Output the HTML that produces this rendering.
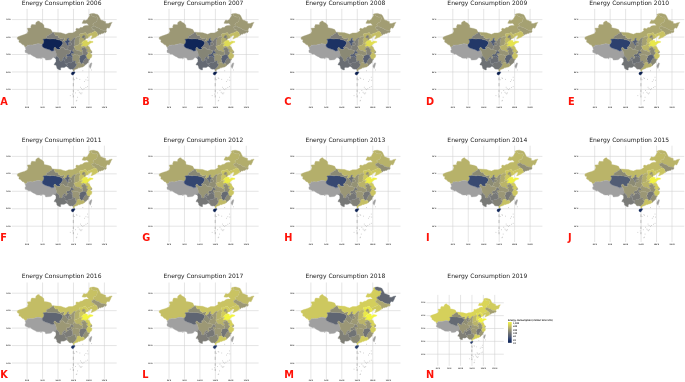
<!DOCTYPE html><html><head><meta charset="utf-8"><title>Energy Consumption</title><style>
html,body{margin:0;padding:0;background:#fff}svg{display:block}.t{font-family:"DejaVu Sans","Liberation Sans",sans-serif;font-size:6.0px;fill:#1a1a1a;text-anchor:middle}.a{font-family:"DejaVu Sans","Liberation Sans",sans-serif;font-size:2.6px;fill:#333;stroke:#333;stroke-width:.05px}.l{font-family:"DejaVu Sans","Liberation Sans",sans-serif;font-weight:bold;font-size:9.75px;fill:#ff1208}.m use{stroke-width:.35;stroke-linejoin:round}
</style></head><body>
<svg width="685" height="382" viewBox="0 0 685 382">
<defs><path id="pXJ" d="M25.6 47.0L24.6 46.5L24.0 45.1L22.2 44.6L20.8 43.0L19.2 42.3L18.9 41.8L19.2 39.8L17.8 39.5L17.5 38.8L17.1 38.1L17.8 36.9L20.1 36.0L22.2 35.3L24.3 34.6L27.4 33.2L27.6 31.8L28.3 31.5L27.7 29.4L27.3 28.3L31.0 28.0L30.8 26.6L31.7 24.5L35.6 24.7L35.9 22.6L37.6 21.2L39.2 21.0L39.5 22.0L41.8 23.1L43.8 25.0L44.1 27.8L48.0 28.5L50.9 29.5L51.7 31.1L52.5 32.3L52.0 33.2L50.6 33.9L49.5 34.8L48.4 35.5L46.9 36.0L46.3 37.4L47.0 38.6L45.3 39.0L43.3 39.2L43.3 39.8L44.0 40.9L43.8 42.3L43.3 43.5L42.3 44.6L40.2 43.9L37.9 43.7L35.6 44.2L32.5 45.1L30.2 44.9L28.6 45.3L27.7 44.9L26.9 46.5Z"/><path id="pXZ" d="M25.6 47.0L26.9 46.5L27.7 44.9L28.6 45.3L30.2 44.9L32.5 45.1L35.6 44.2L37.9 43.7L40.2 43.9L42.3 44.6L42.3 45.8L42.6 46.8L43.8 47.7L45.7 48.6L47.4 49.1L49.1 49.6L50.6 50.3L51.8 51.0L53.1 50.8L54.5 50.1L55.5 51.0L55.9 52.4L56.5 54.5L56.5 55.9L56.0 57.1L55.2 57.8L54.0 57.6L52.1 58.0L51.8 59.0L50.3 59.7L48.0 59.9L45.7 60.1L45.0 58.3L43.3 57.8L41.9 57.6L40.9 59.2L40.7 58.0L39.6 58.2L37.9 58.2L36.4 58.0L35.0 56.9L33.3 56.2L31.7 55.2L30.2 54.0L28.8 54.2L27.4 53.3L26.3 52.8L25.2 52.4L25.1 50.1L26.0 50.0L25.6 48.7L25.2 47.5Z"/><path id="pQH" d="M42.3 44.6L43.3 43.5L43.8 42.3L44.0 40.9L43.3 39.8L43.3 39.2L45.3 39.0L47.0 38.6L48.7 38.8L50.3 39.0L51.8 38.8L53.4 38.8L54.9 39.1L55.9 39.1L57.2 39.5L58.0 39.7L59.6 40.0L61.1 40.7L62.3 41.6L62.8 42.6L62.8 43.7L62.3 44.3L61.9 44.9L61.4 45.9L60.5 46.8L59.6 47.3L59.7 48.0L60.3 48.4L59.9 49.1L59.3 49.6L58.0 49.4L56.8 49.1L55.9 48.2L55.2 47.3L54.2 47.7L53.8 49.3L54.5 50.1L53.1 50.8L51.8 51.0L50.6 50.3L49.1 49.6L47.4 49.1L45.7 48.6L43.8 47.7L42.6 46.8L42.3 45.8Z"/><path id="pGS" d="M47.0 38.6L46.3 37.4L46.9 36.0L48.4 35.5L49.5 34.8L50.6 33.9L52.0 33.2L52.5 32.3L53.7 32.2L54.6 34.1L55.4 35.5L57.4 35.5L58.3 36.0L58.0 37.2L59.3 37.9L60.8 39.1L61.1 38.6L62.5 38.6L63.3 38.1L64.5 38.6L64.2 39.7L63.4 40.4L64.0 41.2L64.7 41.6L65.4 42.3L66.1 42.8L66.5 43.5L66.7 44.4L67.3 44.9L67.8 45.3L68.4 44.9L68.5 44.2L68.1 43.5L68.2 42.6L69.3 42.1L69.8 42.5L70.5 42.6L71.2 43.2L71.5 43.5L71.3 44.9L70.7 45.3L69.9 45.3L69.6 45.8L69.2 45.9L68.2 45.8L68.1 46.3L67.8 46.8L68.2 47.3L67.8 48.0L67.1 48.2L67.0 48.9L66.5 49.6L65.0 49.4L64.7 48.7L63.7 48.0L63.0 47.2L61.7 47.2L60.3 48.4L59.7 48.0L59.6 47.3L60.5 46.8L61.4 45.9L61.9 44.9L62.3 44.3L62.8 43.7L62.8 42.6L62.3 41.6L61.1 40.7L59.6 40.0L58.0 39.7L57.2 39.5L55.9 39.1L54.9 39.1L53.4 38.8L51.8 38.8L50.3 39.0L48.7 38.8Z"/><path id="pNM" d="M53.7 32.2L57.2 32.5L60.8 32.7L63.3 33.6L65.8 34.3L68.8 33.0L72.4 32.9L74.1 32.2L76.4 30.6L75.8 29.5L76.4 28.3L79.0 28.7L80.4 27.6L82.3 27.5L83.7 26.1L84.9 25.7L86.3 25.4L87.9 25.5L88.8 25.2L87.4 23.8L86.6 23.2L84.9 23.6L82.1 23.3L82.6 22.0L83.8 19.9L85.5 20.5L87.5 19.6L87.9 18.6L89.1 16.8L90.0 15.2L89.1 14.7L90.3 13.9L91.1 13.8L91.3 15.1L92.0 16.1L93.6 16.6L95.1 17.3L96.7 16.8L97.4 17.5L97.9 18.4L97.1 19.6L97.0 21.0L95.9 22.2L95.9 22.9L94.4 22.7L93.3 23.8L92.7 24.3L93.6 25.0L93.9 25.4L93.9 26.2L93.3 26.4L91.6 27.1L91.9 28.2L92.3 28.5L92.5 29.5L93.7 29.4L94.4 29.7L94.0 30.6L94.5 31.2L93.6 32.0L92.7 32.3L91.6 32.9L90.5 33.1L89.7 33.4L89.1 34.1L88.8 33.7L87.9 34.3L87.7 34.8L86.3 33.9L86.2 33.6L85.5 32.5L84.1 33.0L82.6 33.6L81.1 33.4L80.3 33.4L79.5 34.6L79.8 35.8L79.4 36.2L78.1 36.4L77.0 36.6L76.4 37.7L75.8 37.7L75.3 38.1L74.9 37.7L73.8 38.0L73.0 38.8L71.9 39.8L71.8 40.5L70.5 41.2L69.6 40.7L68.8 40.4L68.1 39.8L68.8 38.7L68.5 38.1L67.8 38.3L67.3 38.8L67.0 39.7L66.8 40.5L65.8 41.0L64.7 41.6L64.0 41.2L63.4 40.4L64.2 39.7L64.5 38.6L63.3 38.1L62.5 38.6L61.1 38.6L60.8 39.1L59.3 37.9L58.0 37.2L58.3 36.0L57.4 35.5L55.4 35.5L54.6 34.1Z"/><path id="pHLJ" d="M91.1 13.8L92.5 13.5L94.0 13.4L95.6 14.0L97.6 14.4L98.4 15.2L99.0 16.3L99.8 17.9L100.5 19.3L100.7 19.9L102.9 20.6L104.4 21.5L105.5 21.5L105.8 23.6L108.3 23.6L109.2 22.9L111.5 22.4L112.2 22.4L111.0 24.1L110.6 25.5L109.8 26.9L109.2 28.2L107.5 27.8L106.7 28.5L106.1 30.1L106.3 30.9L104.4 30.2L103.2 30.4L102.1 29.7L101.2 30.1L100.5 29.2L99.8 28.8L98.5 28.0L97.8 27.8L96.5 27.5L95.4 26.8L95.0 26.1L93.9 26.2L93.9 25.4L93.6 25.0L92.7 24.3L93.3 23.8L94.4 22.7L95.9 22.9L95.9 22.2L97.0 21.0L97.1 19.6L97.9 18.4L97.4 17.5L96.7 16.8L95.1 17.3L93.6 16.6L92.0 16.1L91.3 15.1Z"/><path id="pJL" d="M93.9 26.2L95.0 26.1L95.4 26.8L96.5 27.5L97.8 27.8L98.5 28.0L99.8 28.8L100.5 29.2L101.2 30.1L102.1 29.7L103.2 30.4L104.4 30.2L106.3 30.9L106.4 31.8L105.8 32.2L105.3 32.9L104.2 32.0L103.9 32.9L102.7 33.6L101.5 33.6L100.2 34.4L99.6 33.9L98.7 35.1L97.9 35.5L97.8 34.8L97.3 34.1L97.3 33.6L97.1 32.9L96.5 32.0L95.7 31.8L95.1 30.9L94.5 31.2L94.0 30.6L94.4 29.7L93.7 29.4L92.5 29.5L92.3 28.5L91.9 28.2L91.6 27.1L93.3 26.4Z"/><path id="pLN" d="M94.5 31.2L95.1 30.9L95.7 31.8L96.5 32.0L97.1 32.9L97.3 33.6L97.3 34.1L97.8 34.8L97.9 35.5L96.7 36.2L95.7 36.9L95.6 37.2L94.4 37.6L92.3 38.6L90.8 39.1L91.4 38.1L92.0 36.7L92.3 36.0L91.9 35.5L90.5 35.7L89.6 36.5L88.6 37.1L88.3 36.2L87.7 35.3L87.7 34.8L87.9 34.3L88.8 33.7L89.1 34.1L89.7 33.4L90.5 33.1L91.6 32.9L92.7 32.3L93.6 32.0Z"/><path id="pHEB" d="M79.8 35.8L79.5 34.6L80.3 33.4L81.1 33.4L82.6 33.6L84.1 33.0L85.5 32.5L86.2 33.6L86.3 33.9L87.7 34.8L87.7 35.3L88.3 36.2L88.6 37.1L87.9 37.9L87.4 38.4L85.8 38.4L85.4 38.8L85.2 39.5L85.5 40.1L84.8 40.8L83.5 40.9L82.8 41.8L82.3 42.3L81.7 43.0L81.9 43.8L81.1 43.9L80.1 43.7L79.3 43.4L78.9 43.0L79.4 42.1L79.5 41.1L79.0 40.0L79.4 39.1L79.5 38.6L80.3 38.1L80.4 37.2L79.7 37.1Z"/><path id="pSX" d="M75.3 38.1L75.8 37.7L76.4 37.7L77.0 36.6L78.1 36.4L79.4 36.2L79.8 35.8L79.7 37.1L80.4 37.2L80.3 38.1L79.5 38.6L79.4 39.1L79.0 40.0L79.5 41.1L79.4 42.1L78.9 43.0L79.3 43.4L79.0 44.6L78.1 45.1L77.3 45.3L76.1 45.8L75.0 46.1L73.9 46.5L74.1 45.3L74.4 44.7L74.3 44.0L74.2 43.0L74.6 41.6L74.3 40.5L74.9 39.5L75.2 38.8Z"/><path id="pSN" d="M75.3 38.1L75.2 38.8L74.9 39.5L74.3 40.5L74.6 41.6L74.2 43.0L74.3 44.0L74.4 44.7L74.1 45.3L73.9 46.5L74.4 47.2L74.9 47.9L75.0 48.9L73.5 48.9L73.8 50.0L72.9 50.3L72.9 51.5L71.9 51.2L71.6 50.7L71.0 50.8L69.6 50.3L68.1 49.8L66.5 49.6L67.0 48.9L67.1 48.2L67.8 48.0L68.2 47.3L67.8 46.8L68.1 46.3L68.2 45.8L69.2 45.9L69.6 45.8L69.9 45.3L70.7 45.3L71.3 44.9L71.5 43.5L71.2 43.2L70.5 42.6L69.8 42.5L69.3 42.1L69.3 41.4L69.6 40.7L70.5 41.2L71.8 40.5L71.9 39.8L73.0 38.8L73.8 38.0L74.9 37.7Z"/><path id="pNX" d="M69.3 42.1L68.2 42.6L68.1 43.5L68.5 44.2L68.4 44.9L67.8 45.3L67.3 44.9L66.7 44.4L66.5 43.5L66.1 42.8L65.4 42.3L64.7 41.6L65.8 41.0L66.8 40.5L67.0 39.7L67.3 38.8L67.8 38.3L68.5 38.1L68.8 38.7L68.1 39.8L68.8 40.4L69.6 40.7L69.3 41.4Z"/><path id="pSD" d="M81.9 43.8L81.7 43.0L82.3 42.3L82.8 41.8L83.5 40.9L84.8 40.8L85.5 40.1L85.8 40.4L87.2 40.4L87.7 40.9L87.2 41.4L87.5 41.9L88.6 41.9L89.4 41.2L90.2 40.9L91.1 41.2L92.2 41.3L93.1 41.6L92.8 42.5L91.3 42.8L90.0 43.5L89.4 43.9L88.3 44.9L87.9 45.6L87.1 45.8L86.5 46.5L86.0 46.5L85.2 46.6L84.6 46.6L84.1 45.9L83.4 46.5L82.9 46.5L82.0 46.5L81.5 46.2L81.1 45.8L81.2 45.3L82.0 44.6L82.8 44.0Z"/><path id="pHEN" d="M73.9 46.5L75.0 46.1L76.1 45.8L77.3 45.3L78.1 45.1L79.0 44.6L79.3 43.4L80.1 43.7L81.1 43.9L81.9 43.8L82.8 44.0L82.0 44.6L81.2 45.3L81.1 45.8L81.5 46.2L82.0 46.5L82.9 46.5L83.4 47.0L83.8 47.5L83.2 47.9L82.1 47.7L81.7 48.4L81.1 49.1L81.7 50.0L82.6 50.1L82.6 51.0L82.0 52.1L80.9 51.9L80.4 51.4L79.8 51.2L79.2 50.5L78.6 50.5L77.8 50.4L76.6 50.3L75.8 50.0L75.3 49.1L75.0 48.9L74.9 47.9L74.4 47.2Z"/><path id="pJS" d="M83.4 46.5L84.1 45.9L84.6 46.6L85.2 46.6L86.0 46.5L86.5 46.5L87.1 45.8L87.9 45.6L87.9 46.1L88.6 46.6L89.4 47.0L89.7 47.9L90.3 49.3L91.1 50.3L91.9 51.5L91.1 51.4L90.6 51.9L90.3 52.8L89.7 52.9L88.8 52.6L88.3 52.5L87.1 52.2L86.8 51.5L86.5 51.2L86.8 50.7L86.9 50.1L87.4 50.1L87.7 49.6L86.9 49.3L86.3 49.6L86.0 48.9L85.7 48.0L85.2 47.5L84.5 47.3L84.1 46.8Z"/><path id="pAH" d="M82.0 52.1L82.6 51.0L82.6 50.1L81.7 50.0L81.1 49.1L81.7 48.4L82.1 47.7L83.2 47.9L83.8 47.5L83.4 47.0L82.9 46.5L83.4 46.5L84.1 46.8L84.5 47.3L85.2 47.5L85.7 48.0L86.0 48.9L86.3 49.6L86.9 49.3L87.7 49.6L87.4 50.1L86.9 50.1L86.8 50.7L86.5 51.2L86.8 51.5L87.1 52.2L88.3 52.5L88.0 53.5L87.7 54.0L87.2 54.0L87.2 54.7L86.5 55.4L86.2 55.5L85.2 55.2L84.5 54.8L83.8 55.0L83.7 54.5L82.9 54.8L82.6 54.0L82.9 53.6L82.8 52.9L82.4 52.6Z"/><path id="pZJ" d="M86.2 55.5L86.5 55.4L87.2 54.7L87.2 54.0L87.7 54.0L88.0 53.5L88.3 52.5L88.8 52.6L89.7 52.9L90.3 52.8L90.9 53.3L90.3 53.8L90.0 54.1L90.8 54.0L91.4 54.5L92.0 54.7L91.9 55.9L91.4 57.5L90.5 58.0L90.0 58.5L89.6 59.4L88.6 59.2L87.7 58.9L87.2 58.9L87.2 58.0L86.5 57.5L86.6 56.9L85.8 56.2Z"/><path id="pFJ" d="M82.6 63.4L82.8 62.4L83.4 61.5L83.7 60.6L84.3 59.7L84.6 59.2L85.5 58.2L86.5 57.5L87.2 58.0L87.2 58.9L87.7 58.9L88.6 59.2L89.6 59.4L88.9 60.3L88.5 61.0L88.3 61.7L88.3 62.5L87.4 62.9L86.9 63.7L86.0 64.3L85.1 65.3L84.6 65.7L84.1 64.6L84.0 63.9L83.1 63.6Z"/><path id="pJX" d="M79.7 62.5L79.5 61.5L79.7 60.6L79.4 59.7L79.0 59.0L79.2 58.2L80.0 57.5L79.8 56.9L79.7 56.2L80.4 55.5L81.5 55.2L82.0 54.8L82.9 54.8L83.7 54.5L83.8 55.0L84.5 54.8L85.2 55.2L86.2 55.5L85.8 56.2L86.6 56.9L86.5 57.5L85.5 58.2L84.6 59.2L84.3 59.7L83.7 60.6L83.4 61.5L82.8 62.4L82.6 63.4L81.2 63.9L80.3 63.9L80.7 62.7Z"/><path id="pHB" d="M75.0 48.9L75.3 49.1L75.8 50.0L76.6 50.3L77.8 50.4L78.6 50.5L79.2 50.5L79.8 51.2L80.4 51.4L80.9 51.9L82.0 52.1L82.4 52.6L82.8 52.9L82.9 53.6L82.6 54.0L82.9 54.8L82.0 54.8L81.5 55.2L80.4 55.5L79.7 56.2L79.2 55.2L78.3 55.4L78.0 54.8L76.6 55.0L76.0 54.7L75.0 54.5L74.3 54.5L73.5 55.0L73.0 55.4L72.2 56.1L71.3 54.8L71.0 54.5L71.2 53.6L71.9 53.3L72.9 53.3L73.6 53.1L73.8 52.4L72.9 51.5L72.9 50.3L73.8 50.0L73.5 48.9Z"/><path id="pHN" d="M72.2 56.1L73.0 55.4L73.5 55.0L74.3 54.5L75.0 54.5L76.0 54.7L76.6 55.0L78.0 54.8L78.3 55.4L79.2 55.2L79.7 56.2L79.8 56.9L80.0 57.5L79.2 58.2L79.0 59.0L79.4 59.7L79.7 60.6L79.5 61.5L79.7 62.5L78.9 62.5L78.1 62.5L77.7 63.1L76.9 63.1L76.6 63.7L75.6 63.7L75.5 62.9L75.0 62.5L75.5 61.8L75.6 61.1L74.9 61.0L74.4 61.0L73.6 61.3L72.7 61.5L72.7 60.3L72.4 59.6L72.6 58.5L72.1 57.6L72.4 56.9Z"/><path id="pGD" d="M76.6 63.7L76.9 63.1L77.7 63.1L78.1 62.5L78.9 62.5L79.7 62.5L80.7 62.7L80.3 63.9L81.2 63.9L82.6 63.4L83.1 63.6L84.0 63.9L84.1 64.6L84.6 65.7L83.8 66.2L82.8 66.9L81.2 67.2L80.1 67.6L79.0 68.1L78.9 67.2L78.3 68.3L76.6 69.0L75.0 69.5L74.3 69.9L74.4 70.9L73.8 71.4L73.2 70.9L73.0 69.9L73.2 69.3L73.9 68.5L74.1 68.1L74.6 67.8L75.5 67.1L75.8 66.2L76.3 65.3L76.6 64.4Z"/><path id="pGX" d="M72.7 61.5L73.6 61.3L74.4 61.0L74.9 61.0L75.6 61.1L75.5 61.8L75.0 62.5L75.5 62.9L75.6 63.7L76.6 63.7L76.6 64.4L76.3 65.3L75.8 66.2L75.5 67.1L74.6 67.8L74.1 68.1L73.9 68.5L73.2 69.3L72.1 69.3L71.2 69.0L70.4 69.3L68.8 68.6L68.2 67.4L67.3 66.9L66.7 66.5L67.6 65.3L67.1 64.8L65.8 64.1L65.3 63.7L66.5 63.7L67.6 63.3L68.1 63.1L68.8 62.7L69.5 62.7L70.4 62.9L71.3 62.5L71.9 62.0Z"/><path id="pGZ" d="M65.3 63.7L65.0 62.7L65.1 61.5L64.7 60.8L63.7 60.1L64.0 59.0L65.0 59.2L66.2 58.5L67.1 58.0L66.7 57.1L67.6 56.8L68.2 57.1L68.8 56.6L69.5 56.0L70.4 56.1L70.9 56.4L71.3 56.9L72.1 57.6L72.6 58.5L72.4 59.6L72.7 60.3L72.7 61.5L71.9 62.0L71.3 62.5L70.4 62.9L69.5 62.7L68.8 62.7L68.1 63.1L67.6 63.3L66.5 63.7Z"/><path id="pCQ" d="M71.0 50.8L71.6 50.7L71.9 51.2L72.9 51.5L73.8 52.4L73.6 53.1L72.9 53.3L71.9 53.3L71.2 53.6L71.0 54.5L71.3 54.8L72.2 56.1L72.4 56.9L72.1 57.6L71.3 56.9L70.9 56.4L70.4 56.1L69.5 56.0L68.8 56.6L68.2 57.1L67.6 56.8L66.8 56.4L66.2 55.7L66.5 55.0L66.8 54.2L67.3 54.2L68.2 54.0L68.8 54.3L69.5 53.5L70.2 52.8L70.4 51.7Z"/><path id="pSC" d="M54.5 50.1L53.8 49.3L54.2 47.7L55.2 47.3L55.9 48.2L56.8 49.1L58.0 49.4L59.3 49.6L59.9 49.1L60.3 48.4L61.7 47.2L63.0 47.2L63.7 48.0L64.7 48.7L65.0 49.4L66.5 49.6L68.1 49.8L69.6 50.3L71.0 50.8L70.4 51.7L70.2 52.8L69.5 53.5L68.8 54.3L68.2 54.0L67.3 54.2L66.8 54.2L66.5 55.0L66.2 55.7L66.8 56.4L67.6 56.8L66.7 57.1L67.1 58.0L66.2 58.5L65.9 57.8L64.8 56.9L64.2 56.9L63.6 57.6L63.1 58.5L62.5 59.2L62.5 60.8L61.1 61.3L60.3 61.3L59.6 60.6L59.4 59.7L59.1 58.3L58.2 57.6L57.4 56.6L56.5 55.9L56.5 54.5L55.9 52.4L55.5 51.0Z"/><path id="pYN" d="M56.5 55.9L57.4 56.6L58.2 57.6L59.1 58.3L59.4 59.7L59.6 60.6L60.3 61.3L61.1 61.3L62.5 60.8L62.5 59.2L63.1 58.5L63.6 57.6L64.2 56.9L64.8 56.9L65.9 57.8L66.2 58.5L65.0 59.2L64.0 59.0L63.7 60.1L64.7 60.8L65.1 61.5L65.0 62.7L65.3 63.7L65.8 64.1L67.1 64.8L67.6 65.3L66.7 66.5L66.2 66.1L65.4 66.9L64.2 67.4L62.7 67.6L61.9 67.2L61.3 67.8L60.6 67.8L60.6 69.9L59.9 69.9L58.3 69.3L58.0 69.0L56.9 68.3L56.8 66.7L56.3 66.2L56.0 65.0L54.3 65.0L54.3 64.3L55.2 62.7L56.0 61.7L56.0 58.9L55.4 58.7L54.5 57.3L54.0 57.6L55.2 57.8L56.0 57.1Z"/><path id="pSH" d="M90.3 52.8L90.6 51.9L91.1 51.4L91.9 51.5L92.0 52.8L90.9 53.3Z"/><path id="pBJ" d="M81.9 37.1L82.4 37.8L83.1 37.8L83.2 38.0L84.0 37.7L84.6 37.1L84.9 36.6L84.6 36.2L85.1 35.9L84.6 35.8L83.8 35.2L83.4 35.5L83.2 36.2L82.6 36.0L82.4 36.2L82.7 36.6L82.0 36.9Z"/><path id="pTJ" d="M84.9 36.6L85.5 37.1L85.2 37.7L85.9 38.3L85.8 38.4L85.4 38.8L85.2 39.5L84.5 39.5L83.9 39.2L84.1 38.6L83.9 37.9L84.3 37.7L84.6 37.1Z"/><path id="pHI" d="M71.3 73.3L71.5 74.4L72.7 75.1L73.6 74.6L74.4 73.5L75.0 72.5L74.6 71.8L73.5 72.0L72.4 72.1L71.5 72.8Z"/><path id="pTW" d="M90.8 63.1L91.4 62.7L91.9 63.2L91.6 64.6L91.1 66.4L90.3 68.5L89.9 67.8L89.2 66.7L89.4 65.3L90.2 63.9Z"/><path id="scs" d="M75.9 77.9h.7M76.6 78.5h.7M79.5 79.4h.7M82.5 70.7h.7M85.6 79.9h.7M87.6 80.3h.7M87.1 77.3h.7M80.1 87.3h.7M81.1 88.7h.7M82.5 89.6h.7M83.7 88.7h.7M85.6 87.5h.7M87.1 86.6h.7M78.9 92.3h.7M79.9 93.2h.7M80.7 93.9h.7M81.6 92.9h.7M75.3 92.9h.7M72.3 94.1h.7M69.9 95.6h.7M77.1 97.3h.7M76.5 100.4h.7M75.9 100.9h.7M91.2 70.0h.7M74.1 79.7h.7M84.3 81.5h.7M77.7 90.5h.7M73.3 77.5L73.3 80.3M73.3 83.1L73.3 86.3M73.3 89.7L73.3 92.2M73.3 95.3L73.3 97.4" fill="none" stroke="#808080" stroke-opacity=".85"/><path id="grid" d="M27.10 8.9V105.2M42.56 8.9V105.2M58.02 8.9V105.2M73.48 8.9V105.2M88.94 8.9V105.2M104.40 8.9V105.2M11.8 89.40H116.7M11.8 71.95H116.7M11.8 54.50H116.7M11.8 37.05H116.7M11.8 19.60H116.7" fill="none" stroke="#d0d0d0"/></defs>
<rect width="685" height="382" fill="#fff"/>
<g transform="translate(0.0 0.0)">
<text class="t" x="61.6" y="4.7">Energy Consumption 2006</text>
<g>
<use href="#grid" stroke-width="0.55"/>
<text class="a" style="font-size:1.70px" text-anchor="end" x="10.6" y="90.01">10°N</text><text class="a" style="font-size:1.70px" text-anchor="end" x="10.6" y="72.56">20°N</text><text class="a" style="font-size:1.70px" text-anchor="end" x="10.6" y="55.11">30°N</text><text class="a" style="font-size:1.70px" text-anchor="end" x="10.6" y="37.66">40°N</text><text class="a" style="font-size:1.70px" text-anchor="end" x="10.6" y="20.21">50°N</text><text class="a" style="font-size:1.70px" text-anchor="middle" x="27.10" y="107.8">80°E</text><text class="a" style="font-size:1.70px" text-anchor="middle" x="42.56" y="107.8">90°E</text><text class="a" style="font-size:1.70px" text-anchor="middle" x="58.02" y="107.8">100°E</text><text class="a" style="font-size:1.70px" text-anchor="middle" x="73.48" y="107.8">110°E</text><text class="a" style="font-size:1.70px" text-anchor="middle" x="88.94" y="107.8">120°E</text><text class="a" style="font-size:1.70px" text-anchor="middle" x="104.40" y="107.8">130°E</text>
<g class="m">
<use href="#pXJ" fill="#9a9676" stroke="#9a9676"/>
<use href="#pXZ" fill="#a0a0a0" stroke="#a0a0a0"/>
<use href="#pQH" fill="#0e2354" stroke="#0e2354"/>
<use href="#pGS" fill="#7c7c78" stroke="#7c7c78"/>
<use href="#pNM" fill="#9a9676" stroke="#9a9676"/>
<use href="#pHLJ" fill="#9a9676" stroke="#9a9676"/>
<use href="#pJL" fill="#949275" stroke="#949275"/>
<use href="#pLN" fill="#c0ba66" stroke="#c0ba66"/>
<use href="#pHEB" fill="#aea96e" stroke="#aea96e"/>
<use href="#pSX" fill="#949275" stroke="#949275"/>
<use href="#pSN" fill="#757676" stroke="#757676"/>
<use href="#pNX" fill="#3c4c71" stroke="#3c4c71"/>
<use href="#pSD" fill="#d7d359" stroke="#d7d359"/>
<use href="#pHEN" fill="#a9a470" stroke="#a9a470"/>
<use href="#pJS" fill="#aea96e" stroke="#aea96e"/>
<use href="#pAH" fill="#7c7c78" stroke="#7c7c78"/>
<use href="#pZJ" fill="#bdb768" stroke="#bdb768"/>
<use href="#pFJ" fill="#7c7c78" stroke="#7c7c78"/>
<use href="#pJX" fill="#576073" stroke="#576073"/>
<use href="#pHB" fill="#8a8975" stroke="#8a8975"/>
<use href="#pHN" fill="#949275" stroke="#949275"/>
<use href="#pGD" fill="#9a9676" stroke="#9a9676"/>
<use href="#pGX" fill="#616772" stroke="#616772"/>
<use href="#pGZ" fill="#656a73" stroke="#656a73"/>
<use href="#pCQ" fill="#485573" stroke="#485573"/>
<use href="#pSC" fill="#818077" stroke="#818077"/>
<use href="#pYN" fill="#616772" stroke="#616772"/>
<use href="#pSH" fill="#8f8d74" stroke="#8f8d74"/>
<use href="#pBJ" fill="#6e7174" stroke="#6e7174"/>
<use href="#pTJ" fill="#878775" stroke="#878775"/>
<use href="#pHI" fill="#0a1e4e" stroke="#0a1e4e"/>
<use href="#pTW" fill="#a0a0a0" stroke="#a0a0a0"/>
<g fill="none" stroke="#fff" stroke-opacity=".10" stroke-width=".3"><use href="#pXJ"/><use href="#pXZ"/><use href="#pQH"/><use href="#pGS"/><use href="#pNM"/><use href="#pHLJ"/><use href="#pJL"/><use href="#pLN"/><use href="#pHEB"/><use href="#pSX"/><use href="#pSN"/><use href="#pNX"/><use href="#pSD"/><use href="#pHEN"/><use href="#pJS"/><use href="#pAH"/><use href="#pZJ"/><use href="#pFJ"/><use href="#pJX"/><use href="#pHB"/><use href="#pHN"/><use href="#pGD"/><use href="#pGX"/><use href="#pGZ"/><use href="#pCQ"/><use href="#pSC"/><use href="#pYN"/><use href="#pSH"/><use href="#pBJ"/><use href="#pTJ"/></g>
</g><use href="#scs" stroke-width="0.55"/>
</g>
<text class="l" x="0.35" y="104.75">A</text>
</g>
<g transform="translate(141.9 0.0)">
<text class="t" x="61.6" y="4.7">Energy Consumption 2007</text>
<g>
<use href="#grid" stroke-width="0.55"/>
<text class="a" style="font-size:1.70px" text-anchor="end" x="10.6" y="90.01">10°N</text><text class="a" style="font-size:1.70px" text-anchor="end" x="10.6" y="72.56">20°N</text><text class="a" style="font-size:1.70px" text-anchor="end" x="10.6" y="55.11">30°N</text><text class="a" style="font-size:1.70px" text-anchor="end" x="10.6" y="37.66">40°N</text><text class="a" style="font-size:1.70px" text-anchor="end" x="10.6" y="20.21">50°N</text><text class="a" style="font-size:1.70px" text-anchor="middle" x="27.10" y="107.8">80°E</text><text class="a" style="font-size:1.70px" text-anchor="middle" x="42.56" y="107.8">90°E</text><text class="a" style="font-size:1.70px" text-anchor="middle" x="58.02" y="107.8">100°E</text><text class="a" style="font-size:1.70px" text-anchor="middle" x="73.48" y="107.8">110°E</text><text class="a" style="font-size:1.70px" text-anchor="middle" x="88.94" y="107.8">120°E</text><text class="a" style="font-size:1.70px" text-anchor="middle" x="104.40" y="107.8">130°E</text>
<g class="m">
<use href="#pXJ" fill="#9c9875" stroke="#9c9875"/>
<use href="#pXZ" fill="#a0a0a0" stroke="#a0a0a0"/>
<use href="#pQH" fill="#102658" stroke="#102658"/>
<use href="#pGS" fill="#7d7d78" stroke="#7d7d78"/>
<use href="#pNM" fill="#9c9875" stroke="#9c9875"/>
<use href="#pHLJ" fill="#9e9a74" stroke="#9e9a74"/>
<use href="#pJL" fill="#979476" stroke="#979476"/>
<use href="#pLN" fill="#c3bd65" stroke="#c3bd65"/>
<use href="#pHEB" fill="#b4af6b" stroke="#b4af6b"/>
<use href="#pSX" fill="#999576" stroke="#999576"/>
<use href="#pSN" fill="#7a7a77" stroke="#7a7a77"/>
<use href="#pNX" fill="#415072" stroke="#415072"/>
<use href="#pSD" fill="#dedb54" stroke="#dedb54"/>
<use href="#pHEN" fill="#ada86e" stroke="#ada86e"/>
<use href="#pJS" fill="#b6b06b" stroke="#b6b06b"/>
<use href="#pAH" fill="#7f7f77" stroke="#7f7f77"/>
<use href="#pZJ" fill="#c1bb66" stroke="#c1bb66"/>
<use href="#pFJ" fill="#7f7f77" stroke="#7f7f77"/>
<use href="#pJX" fill="#586073" stroke="#586073"/>
<use href="#pHB" fill="#8d8c74" stroke="#8d8c74"/>
<use href="#pHN" fill="#969375" stroke="#969375"/>
<use href="#pGD" fill="#9e9a74" stroke="#9e9a74"/>
<use href="#pGX" fill="#666b73" stroke="#666b73"/>
<use href="#pGZ" fill="#666b73" stroke="#666b73"/>
<use href="#pCQ" fill="#4f5a74" stroke="#4f5a74"/>
<use href="#pSC" fill="#858576" stroke="#858576"/>
<use href="#pYN" fill="#656a73" stroke="#656a73"/>
<use href="#pSH" fill="#928f75" stroke="#928f75"/>
<use href="#pBJ" fill="#737575" stroke="#737575"/>
<use href="#pTJ" fill="#8b8a74" stroke="#8b8a74"/>
<use href="#pHI" fill="#0b1f4f" stroke="#0b1f4f"/>
<use href="#pTW" fill="#a0a0a0" stroke="#a0a0a0"/>
<g fill="none" stroke="#fff" stroke-opacity=".10" stroke-width=".3"><use href="#pXJ"/><use href="#pXZ"/><use href="#pQH"/><use href="#pGS"/><use href="#pNM"/><use href="#pHLJ"/><use href="#pJL"/><use href="#pLN"/><use href="#pHEB"/><use href="#pSX"/><use href="#pSN"/><use href="#pNX"/><use href="#pSD"/><use href="#pHEN"/><use href="#pJS"/><use href="#pAH"/><use href="#pZJ"/><use href="#pFJ"/><use href="#pJX"/><use href="#pHB"/><use href="#pHN"/><use href="#pGD"/><use href="#pGX"/><use href="#pGZ"/><use href="#pCQ"/><use href="#pSC"/><use href="#pYN"/><use href="#pSH"/><use href="#pBJ"/><use href="#pTJ"/></g>
</g><use href="#scs" stroke-width="0.55"/>
</g>
<text class="l" x="0.35" y="104.75">B</text>
</g>
<g transform="translate(283.8 0.0)">
<text class="t" x="61.6" y="4.7">Energy Consumption 2008</text>
<g>
<use href="#grid" stroke-width="0.55"/>
<text class="a" style="font-size:1.70px" text-anchor="end" x="10.6" y="90.01">10°N</text><text class="a" style="font-size:1.70px" text-anchor="end" x="10.6" y="72.56">20°N</text><text class="a" style="font-size:1.70px" text-anchor="end" x="10.6" y="55.11">30°N</text><text class="a" style="font-size:1.70px" text-anchor="end" x="10.6" y="37.66">40°N</text><text class="a" style="font-size:1.70px" text-anchor="end" x="10.6" y="20.21">50°N</text><text class="a" style="font-size:1.70px" text-anchor="middle" x="27.10" y="107.8">80°E</text><text class="a" style="font-size:1.70px" text-anchor="middle" x="42.56" y="107.8">90°E</text><text class="a" style="font-size:1.70px" text-anchor="middle" x="58.02" y="107.8">100°E</text><text class="a" style="font-size:1.70px" text-anchor="middle" x="73.48" y="107.8">110°E</text><text class="a" style="font-size:1.70px" text-anchor="middle" x="88.94" y="107.8">120°E</text><text class="a" style="font-size:1.70px" text-anchor="middle" x="104.40" y="107.8">130°E</text>
<g class="m">
<use href="#pXJ" fill="#9f9b74" stroke="#9f9b74"/>
<use href="#pXZ" fill="#a0a0a0" stroke="#a0a0a0"/>
<use href="#pQH" fill="#1c3264" stroke="#1c3264"/>
<use href="#pGS" fill="#7e7d78" stroke="#7e7d78"/>
<use href="#pNM" fill="#a4a072" stroke="#a4a072"/>
<use href="#pHLJ" fill="#a29d73" stroke="#a29d73"/>
<use href="#pJL" fill="#9a9676" stroke="#9a9676"/>
<use href="#pLN" fill="#c5bf64" stroke="#c5bf64"/>
<use href="#pHEB" fill="#bab469" stroke="#bab469"/>
<use href="#pSX" fill="#9c9875" stroke="#9c9875"/>
<use href="#pSN" fill="#7e7e77" stroke="#7e7e77"/>
<use href="#pNX" fill="#465473" stroke="#465473"/>
<use href="#pSD" fill="#e2df50" stroke="#e2df50"/>
<use href="#pHEN" fill="#b3ad6c" stroke="#b3ad6c"/>
<use href="#pJS" fill="#bdb768" stroke="#bdb768"/>
<use href="#pAH" fill="#828177" stroke="#828177"/>
<use href="#pZJ" fill="#c4be64" stroke="#c4be64"/>
<use href="#pFJ" fill="#828177" stroke="#828177"/>
<use href="#pJX" fill="#586073" stroke="#586073"/>
<use href="#pHB" fill="#928f75" stroke="#928f75"/>
<use href="#pHN" fill="#979476" stroke="#979476"/>
<use href="#pGD" fill="#a29d73" stroke="#a29d73"/>
<use href="#pGX" fill="#6c6f74" stroke="#6c6f74"/>
<use href="#pGZ" fill="#686c73" stroke="#686c73"/>
<use href="#pCQ" fill="#545e74" stroke="#545e74"/>
<use href="#pSC" fill="#8a8975" stroke="#8a8975"/>
<use href="#pYN" fill="#696d73" stroke="#696d73"/>
<use href="#pSH" fill="#949275" stroke="#949275"/>
<use href="#pBJ" fill="#777877" stroke="#777877"/>
<use href="#pTJ" fill="#908e75" stroke="#908e75"/>
<use href="#pHI" fill="#0b1f50" stroke="#0b1f50"/>
<use href="#pTW" fill="#a0a0a0" stroke="#a0a0a0"/>
<g fill="none" stroke="#fff" stroke-opacity=".10" stroke-width=".3"><use href="#pXJ"/><use href="#pXZ"/><use href="#pQH"/><use href="#pGS"/><use href="#pNM"/><use href="#pHLJ"/><use href="#pJL"/><use href="#pLN"/><use href="#pHEB"/><use href="#pSX"/><use href="#pSN"/><use href="#pNX"/><use href="#pSD"/><use href="#pHEN"/><use href="#pJS"/><use href="#pAH"/><use href="#pZJ"/><use href="#pFJ"/><use href="#pJX"/><use href="#pHB"/><use href="#pHN"/><use href="#pGD"/><use href="#pGX"/><use href="#pGZ"/><use href="#pCQ"/><use href="#pSC"/><use href="#pYN"/><use href="#pSH"/><use href="#pBJ"/><use href="#pTJ"/></g>
</g><use href="#scs" stroke-width="0.55"/>
</g>
<text class="l" x="0.35" y="104.75">C</text>
</g>
<g transform="translate(425.7 0.0)">
<text class="t" x="61.6" y="4.7">Energy Consumption 2009</text>
<g>
<use href="#grid" stroke-width="0.55"/>
<text class="a" style="font-size:1.70px" text-anchor="end" x="10.6" y="90.01">10°N</text><text class="a" style="font-size:1.70px" text-anchor="end" x="10.6" y="72.56">20°N</text><text class="a" style="font-size:1.70px" text-anchor="end" x="10.6" y="55.11">30°N</text><text class="a" style="font-size:1.70px" text-anchor="end" x="10.6" y="37.66">40°N</text><text class="a" style="font-size:1.70px" text-anchor="end" x="10.6" y="20.21">50°N</text><text class="a" style="font-size:1.70px" text-anchor="middle" x="27.10" y="107.8">80°E</text><text class="a" style="font-size:1.70px" text-anchor="middle" x="42.56" y="107.8">90°E</text><text class="a" style="font-size:1.70px" text-anchor="middle" x="58.02" y="107.8">100°E</text><text class="a" style="font-size:1.70px" text-anchor="middle" x="73.48" y="107.8">110°E</text><text class="a" style="font-size:1.70px" text-anchor="middle" x="88.94" y="107.8">120°E</text><text class="a" style="font-size:1.70px" text-anchor="middle" x="104.40" y="107.8">130°E</text>
<g class="m">
<use href="#pXJ" fill="#a39e72" stroke="#a39e72"/>
<use href="#pXZ" fill="#a0a0a0" stroke="#a0a0a0"/>
<use href="#pQH" fill="#233868" stroke="#233868"/>
<use href="#pGS" fill="#7e7e77" stroke="#7e7e77"/>
<use href="#pNM" fill="#a9a470" stroke="#a9a470"/>
<use href="#pHLJ" fill="#a5a172" stroke="#a5a172"/>
<use href="#pJL" fill="#9f9b74" stroke="#9f9b74"/>
<use href="#pLN" fill="#c7c163" stroke="#c7c163"/>
<use href="#pHEB" fill="#c0ba66" stroke="#c0ba66"/>
<use href="#pSX" fill="#a09c74" stroke="#a09c74"/>
<use href="#pSN" fill="#838276" stroke="#838276"/>
<use href="#pNX" fill="#4c5873" stroke="#4c5873"/>
<use href="#pSD" fill="#e6e44d" stroke="#e6e44d"/>
<use href="#pHEN" fill="#b8b26a" stroke="#b8b26a"/>
<use href="#pJS" fill="#c4be64" stroke="#c4be64"/>
<use href="#pAH" fill="#858476" stroke="#858476"/>
<use href="#pZJ" fill="#c7c163" stroke="#c7c163"/>
<use href="#pFJ" fill="#858476" stroke="#858476"/>
<use href="#pJX" fill="#586173" stroke="#586173"/>
<use href="#pHB" fill="#969375" stroke="#969375"/>
<use href="#pHN" fill="#999576" stroke="#999576"/>
<use href="#pGD" fill="#aaa56f" stroke="#aaa56f"/>
<use href="#pGX" fill="#717475" stroke="#717475"/>
<use href="#pGZ" fill="#696d73" stroke="#696d73"/>
<use href="#pCQ" fill="#586173" stroke="#586173"/>
<use href="#pSC" fill="#8f8d74" stroke="#8f8d74"/>
<use href="#pYN" fill="#6c7074" stroke="#6c7074"/>
<use href="#pSH" fill="#979476" stroke="#979476"/>
<use href="#pBJ" fill="#7c7c78" stroke="#7c7c78"/>
<use href="#pTJ" fill="#959275" stroke="#959275"/>
<use href="#pHI" fill="#0c2051" stroke="#0c2051"/>
<use href="#pTW" fill="#a0a0a0" stroke="#a0a0a0"/>
<g fill="none" stroke="#fff" stroke-opacity=".10" stroke-width=".3"><use href="#pXJ"/><use href="#pXZ"/><use href="#pQH"/><use href="#pGS"/><use href="#pNM"/><use href="#pHLJ"/><use href="#pJL"/><use href="#pLN"/><use href="#pHEB"/><use href="#pSX"/><use href="#pSN"/><use href="#pNX"/><use href="#pSD"/><use href="#pHEN"/><use href="#pJS"/><use href="#pAH"/><use href="#pZJ"/><use href="#pFJ"/><use href="#pJX"/><use href="#pHB"/><use href="#pHN"/><use href="#pGD"/><use href="#pGX"/><use href="#pGZ"/><use href="#pCQ"/><use href="#pSC"/><use href="#pYN"/><use href="#pSH"/><use href="#pBJ"/><use href="#pTJ"/></g>
</g><use href="#scs" stroke-width="0.55"/>
</g>
<text class="l" x="0.35" y="104.75">D</text>
</g>
<g transform="translate(567.6 0.0)">
<text class="t" x="61.6" y="4.7">Energy Consumption 2010</text>
<g>
<use href="#grid" stroke-width="0.55"/>
<text class="a" style="font-size:1.70px" text-anchor="end" x="10.6" y="90.01">10°N</text><text class="a" style="font-size:1.70px" text-anchor="end" x="10.6" y="72.56">20°N</text><text class="a" style="font-size:1.70px" text-anchor="end" x="10.6" y="55.11">30°N</text><text class="a" style="font-size:1.70px" text-anchor="end" x="10.6" y="37.66">40°N</text><text class="a" style="font-size:1.70px" text-anchor="end" x="10.6" y="20.21">50°N</text><text class="a" style="font-size:1.70px" text-anchor="middle" x="27.10" y="107.8">80°E</text><text class="a" style="font-size:1.70px" text-anchor="middle" x="42.56" y="107.8">90°E</text><text class="a" style="font-size:1.70px" text-anchor="middle" x="58.02" y="107.8">100°E</text><text class="a" style="font-size:1.70px" text-anchor="middle" x="73.48" y="107.8">110°E</text><text class="a" style="font-size:1.70px" text-anchor="middle" x="88.94" y="107.8">120°E</text><text class="a" style="font-size:1.70px" text-anchor="middle" x="104.40" y="107.8">130°E</text>
<g class="m">
<use href="#pXJ" fill="#a7a271" stroke="#a7a271"/>
<use href="#pXZ" fill="#a0a0a0" stroke="#a0a0a0"/>
<use href="#pQH" fill="#2c406e" stroke="#2c406e"/>
<use href="#pGS" fill="#838276" stroke="#838276"/>
<use href="#pNM" fill="#aea96e" stroke="#aea96e"/>
<use href="#pHLJ" fill="#a9a470" stroke="#a9a470"/>
<use href="#pJL" fill="#a4a072" stroke="#a4a072"/>
<use href="#pLN" fill="#c9c362" stroke="#c9c362"/>
<use href="#pHEB" fill="#c5bf64" stroke="#c5bf64"/>
<use href="#pSX" fill="#a4a072" stroke="#a4a072"/>
<use href="#pSN" fill="#878775" stroke="#878775"/>
<use href="#pNX" fill="#515c74" stroke="#515c74"/>
<use href="#pSD" fill="#e9e84a" stroke="#e9e84a"/>
<use href="#pHEN" fill="#bdb768" stroke="#bdb768"/>
<use href="#pJS" fill="#c9c362" stroke="#c9c362"/>
<use href="#pAH" fill="#878775" stroke="#878775"/>
<use href="#pZJ" fill="#c9c362" stroke="#c9c362"/>
<use href="#pFJ" fill="#878775" stroke="#878775"/>
<use href="#pJX" fill="#596173" stroke="#596173"/>
<use href="#pHB" fill="#9a9676" stroke="#9a9676"/>
<use href="#pHN" fill="#9a9676" stroke="#9a9676"/>
<use href="#pGD" fill="#b4af6b" stroke="#b4af6b"/>
<use href="#pGX" fill="#777877" stroke="#777877"/>
<use href="#pGZ" fill="#6a6e73" stroke="#6a6e73"/>
<use href="#pCQ" fill="#5d6472" stroke="#5d6472"/>
<use href="#pSC" fill="#949275" stroke="#949275"/>
<use href="#pYN" fill="#707375" stroke="#707375"/>
<use href="#pSH" fill="#9a9676" stroke="#9a9676"/>
<use href="#pBJ" fill="#818077" stroke="#818077"/>
<use href="#pTJ" fill="#9a9676" stroke="#9a9676"/>
<use href="#pHI" fill="#0c2151" stroke="#0c2151"/>
<use href="#pTW" fill="#a0a0a0" stroke="#a0a0a0"/>
<g fill="none" stroke="#fff" stroke-opacity=".10" stroke-width=".3"><use href="#pXJ"/><use href="#pXZ"/><use href="#pQH"/><use href="#pGS"/><use href="#pNM"/><use href="#pHLJ"/><use href="#pJL"/><use href="#pLN"/><use href="#pHEB"/><use href="#pSX"/><use href="#pSN"/><use href="#pNX"/><use href="#pSD"/><use href="#pHEN"/><use href="#pJS"/><use href="#pAH"/><use href="#pZJ"/><use href="#pFJ"/><use href="#pJX"/><use href="#pHB"/><use href="#pHN"/><use href="#pGD"/><use href="#pGX"/><use href="#pGZ"/><use href="#pCQ"/><use href="#pSC"/><use href="#pYN"/><use href="#pSH"/><use href="#pBJ"/><use href="#pTJ"/></g>
</g><use href="#scs" stroke-width="0.55"/>
</g>
<text class="l" x="0.35" y="104.75">E</text>
</g>
<g transform="translate(0.0 136.8)">
<text class="t" x="61.6" y="4.7">Energy Consumption 2011</text>
<g>
<use href="#grid" stroke-width="0.55"/>
<text class="a" style="font-size:1.70px" text-anchor="end" x="10.6" y="90.01">10°N</text><text class="a" style="font-size:1.70px" text-anchor="end" x="10.6" y="72.56">20°N</text><text class="a" style="font-size:1.70px" text-anchor="end" x="10.6" y="55.11">30°N</text><text class="a" style="font-size:1.70px" text-anchor="end" x="10.6" y="37.66">40°N</text><text class="a" style="font-size:1.70px" text-anchor="end" x="10.6" y="20.21">50°N</text><text class="a" style="font-size:1.70px" text-anchor="middle" x="27.10" y="107.8">80°E</text><text class="a" style="font-size:1.70px" text-anchor="middle" x="42.56" y="107.8">90°E</text><text class="a" style="font-size:1.70px" text-anchor="middle" x="58.02" y="107.8">100°E</text><text class="a" style="font-size:1.70px" text-anchor="middle" x="73.48" y="107.8">110°E</text><text class="a" style="font-size:1.70px" text-anchor="middle" x="88.94" y="107.8">120°E</text><text class="a" style="font-size:1.70px" text-anchor="middle" x="104.40" y="107.8">130°E</text>
<g class="m">
<use href="#pXJ" fill="#a9a470" stroke="#a9a470"/>
<use href="#pXZ" fill="#a0a0a0" stroke="#a0a0a0"/>
<use href="#pQH" fill="#2e4270" stroke="#2e4270"/>
<use href="#pGS" fill="#858576" stroke="#858576"/>
<use href="#pNM" fill="#b4af6b" stroke="#b4af6b"/>
<use href="#pHLJ" fill="#ada86e" stroke="#ada86e"/>
<use href="#pJL" fill="#a5a172" stroke="#a5a172"/>
<use href="#pLN" fill="#cac561" stroke="#cac561"/>
<use href="#pHEB" fill="#c8c262" stroke="#c8c262"/>
<use href="#pSX" fill="#a7a371" stroke="#a7a371"/>
<use href="#pSN" fill="#8b8a74" stroke="#8b8a74"/>
<use href="#pNX" fill="#596173" stroke="#596173"/>
<use href="#pSD" fill="#ebeb48" stroke="#ebeb48"/>
<use href="#pHEN" fill="#bcb668" stroke="#bcb668"/>
<use href="#pJS" fill="#cbc561" stroke="#cbc561"/>
<use href="#pAH" fill="#8a8975" stroke="#8a8975"/>
<use href="#pZJ" fill="#cac461" stroke="#cac461"/>
<use href="#pFJ" fill="#8a8975" stroke="#8a8975"/>
<use href="#pJX" fill="#5f6572" stroke="#5f6572"/>
<use href="#pHB" fill="#9a9676" stroke="#9a9676"/>
<use href="#pHN" fill="#9a9676" stroke="#9a9676"/>
<use href="#pGD" fill="#bab469" stroke="#bab469"/>
<use href="#pGX" fill="#7a7b78" stroke="#7a7b78"/>
<use href="#pGZ" fill="#6d7074" stroke="#6d7074"/>
<use href="#pCQ" fill="#656a73" stroke="#656a73"/>
<use href="#pSC" fill="#969375" stroke="#969375"/>
<use href="#pYN" fill="#737575" stroke="#737575"/>
<use href="#pSH" fill="#9b9776" stroke="#9b9776"/>
<use href="#pBJ" fill="#858576" stroke="#858576"/>
<use href="#pTJ" fill="#9d9975" stroke="#9d9975"/>
<use href="#pHI" fill="#0d2152" stroke="#0d2152"/>
<use href="#pTW" fill="#a0a0a0" stroke="#a0a0a0"/>
<g fill="none" stroke="#fff" stroke-opacity=".10" stroke-width=".3"><use href="#pXJ"/><use href="#pXZ"/><use href="#pQH"/><use href="#pGS"/><use href="#pNM"/><use href="#pHLJ"/><use href="#pJL"/><use href="#pLN"/><use href="#pHEB"/><use href="#pSX"/><use href="#pSN"/><use href="#pNX"/><use href="#pSD"/><use href="#pHEN"/><use href="#pJS"/><use href="#pAH"/><use href="#pZJ"/><use href="#pFJ"/><use href="#pJX"/><use href="#pHB"/><use href="#pHN"/><use href="#pGD"/><use href="#pGX"/><use href="#pGZ"/><use href="#pCQ"/><use href="#pSC"/><use href="#pYN"/><use href="#pSH"/><use href="#pBJ"/><use href="#pTJ"/></g>
</g><use href="#scs" stroke-width="0.55"/>
</g>
<text class="l" x="0.35" y="104.50">F</text>
</g>
<g transform="translate(141.9 136.8)">
<text class="t" x="61.6" y="4.7">Energy Consumption 2012</text>
<g>
<use href="#grid" stroke-width="0.55"/>
<text class="a" style="font-size:1.70px" text-anchor="end" x="10.6" y="90.01">10°N</text><text class="a" style="font-size:1.70px" text-anchor="end" x="10.6" y="72.56">20°N</text><text class="a" style="font-size:1.70px" text-anchor="end" x="10.6" y="55.11">30°N</text><text class="a" style="font-size:1.70px" text-anchor="end" x="10.6" y="37.66">40°N</text><text class="a" style="font-size:1.70px" text-anchor="end" x="10.6" y="20.21">50°N</text><text class="a" style="font-size:1.70px" text-anchor="middle" x="27.10" y="107.8">80°E</text><text class="a" style="font-size:1.70px" text-anchor="middle" x="42.56" y="107.8">90°E</text><text class="a" style="font-size:1.70px" text-anchor="middle" x="58.02" y="107.8">100°E</text><text class="a" style="font-size:1.70px" text-anchor="middle" x="73.48" y="107.8">110°E</text><text class="a" style="font-size:1.70px" text-anchor="middle" x="88.94" y="107.8">120°E</text><text class="a" style="font-size:1.70px" text-anchor="middle" x="104.40" y="107.8">130°E</text>
<g class="m">
<use href="#pXJ" fill="#aea96e" stroke="#aea96e"/>
<use href="#pXZ" fill="#a0a0a0" stroke="#a0a0a0"/>
<use href="#pQH" fill="#344671" stroke="#344671"/>
<use href="#pGS" fill="#878775" stroke="#878775"/>
<use href="#pNM" fill="#b8b36a" stroke="#b8b36a"/>
<use href="#pHLJ" fill="#b2ad6c" stroke="#b2ad6c"/>
<use href="#pJL" fill="#a7a271" stroke="#a7a271"/>
<use href="#pLN" fill="#ccc660" stroke="#ccc660"/>
<use href="#pHEB" fill="#cac561" stroke="#cac561"/>
<use href="#pSX" fill="#aba66f" stroke="#aba66f"/>
<use href="#pSN" fill="#908e75" stroke="#908e75"/>
<use href="#pNX" fill="#616772" stroke="#616772"/>
<use href="#pSD" fill="#eded46" stroke="#eded46"/>
<use href="#pHEN" fill="#bbb568" stroke="#bbb568"/>
<use href="#pJS" fill="#cdc85f" stroke="#cdc85f"/>
<use href="#pAH" fill="#8c8b74" stroke="#8c8b74"/>
<use href="#pZJ" fill="#cac561" stroke="#cac561"/>
<use href="#pFJ" fill="#8c8b74" stroke="#8c8b74"/>
<use href="#pJX" fill="#656a73" stroke="#656a73"/>
<use href="#pHB" fill="#9a9676" stroke="#9a9676"/>
<use href="#pHN" fill="#9b9776" stroke="#9b9776"/>
<use href="#pGD" fill="#c0ba66" stroke="#c0ba66"/>
<use href="#pGX" fill="#7e7d78" stroke="#7e7d78"/>
<use href="#pGZ" fill="#717375" stroke="#717375"/>
<use href="#pCQ" fill="#6d7074" stroke="#6d7074"/>
<use href="#pSC" fill="#989576" stroke="#989576"/>
<use href="#pYN" fill="#757676" stroke="#757676"/>
<use href="#pSH" fill="#9b9776" stroke="#9b9776"/>
<use href="#pBJ" fill="#8a8975" stroke="#8a8975"/>
<use href="#pTJ" fill="#a19c73" stroke="#a19c73"/>
<use href="#pHI" fill="#0d2253" stroke="#0d2253"/>
<use href="#pTW" fill="#a0a0a0" stroke="#a0a0a0"/>
<g fill="none" stroke="#fff" stroke-opacity=".10" stroke-width=".3"><use href="#pXJ"/><use href="#pXZ"/><use href="#pQH"/><use href="#pGS"/><use href="#pNM"/><use href="#pHLJ"/><use href="#pJL"/><use href="#pLN"/><use href="#pHEB"/><use href="#pSX"/><use href="#pSN"/><use href="#pNX"/><use href="#pSD"/><use href="#pHEN"/><use href="#pJS"/><use href="#pAH"/><use href="#pZJ"/><use href="#pFJ"/><use href="#pJX"/><use href="#pHB"/><use href="#pHN"/><use href="#pGD"/><use href="#pGX"/><use href="#pGZ"/><use href="#pCQ"/><use href="#pSC"/><use href="#pYN"/><use href="#pSH"/><use href="#pBJ"/><use href="#pTJ"/></g>
</g><use href="#scs" stroke-width="0.55"/>
</g>
<text class="l" x="0.35" y="104.50">G</text>
</g>
<g transform="translate(283.8 136.8)">
<text class="t" x="61.6" y="4.7">Energy Consumption 2013</text>
<g>
<use href="#grid" stroke-width="0.55"/>
<text class="a" style="font-size:1.70px" text-anchor="end" x="10.6" y="90.01">10°N</text><text class="a" style="font-size:1.70px" text-anchor="end" x="10.6" y="72.56">20°N</text><text class="a" style="font-size:1.70px" text-anchor="end" x="10.6" y="55.11">30°N</text><text class="a" style="font-size:1.70px" text-anchor="end" x="10.6" y="37.66">40°N</text><text class="a" style="font-size:1.70px" text-anchor="end" x="10.6" y="20.21">50°N</text><text class="a" style="font-size:1.70px" text-anchor="middle" x="27.10" y="107.8">80°E</text><text class="a" style="font-size:1.70px" text-anchor="middle" x="42.56" y="107.8">90°E</text><text class="a" style="font-size:1.70px" text-anchor="middle" x="58.02" y="107.8">100°E</text><text class="a" style="font-size:1.70px" text-anchor="middle" x="73.48" y="107.8">110°E</text><text class="a" style="font-size:1.70px" text-anchor="middle" x="88.94" y="107.8">120°E</text><text class="a" style="font-size:1.70px" text-anchor="middle" x="104.40" y="107.8">130°E</text>
<g class="m">
<use href="#pXJ" fill="#b4af6b" stroke="#b4af6b"/>
<use href="#pXZ" fill="#a0a0a0" stroke="#a0a0a0"/>
<use href="#pQH" fill="#374871" stroke="#374871"/>
<use href="#pGS" fill="#8a8975" stroke="#8a8975"/>
<use href="#pNM" fill="#bdb768" stroke="#bdb768"/>
<use href="#pHLJ" fill="#b7b26a" stroke="#b7b26a"/>
<use href="#pJL" fill="#8f8d74" stroke="#8f8d74"/>
<use href="#pLN" fill="#cdc85f" stroke="#cdc85f"/>
<use href="#pHEB" fill="#cdc85f" stroke="#cdc85f"/>
<use href="#pSX" fill="#aea96e" stroke="#aea96e"/>
<use href="#pSN" fill="#949275" stroke="#949275"/>
<use href="#pNX" fill="#6a6e73" stroke="#6a6e73"/>
<use href="#pSD" fill="#eff044" stroke="#eff044"/>
<use href="#pHEN" fill="#bab469" stroke="#bab469"/>
<use href="#pJS" fill="#cfca5e" stroke="#cfca5e"/>
<use href="#pAH" fill="#8f8d74" stroke="#8f8d74"/>
<use href="#pZJ" fill="#cbc561" stroke="#cbc561"/>
<use href="#pFJ" fill="#8f8d74" stroke="#8f8d74"/>
<use href="#pJX" fill="#777877" stroke="#777877"/>
<use href="#pHB" fill="#9a9676" stroke="#9a9676"/>
<use href="#pHN" fill="#9b9776" stroke="#9b9776"/>
<use href="#pGD" fill="#c5bf64" stroke="#c5bf64"/>
<use href="#pGX" fill="#818077" stroke="#818077"/>
<use href="#pGZ" fill="#757676" stroke="#757676"/>
<use href="#pCQ" fill="#757676" stroke="#757676"/>
<use href="#pSC" fill="#9a9676" stroke="#9a9676"/>
<use href="#pYN" fill="#777877" stroke="#777877"/>
<use href="#pSH" fill="#9c9875" stroke="#9c9875"/>
<use href="#pBJ" fill="#8f8d74" stroke="#8f8d74"/>
<use href="#pTJ" fill="#a4a072" stroke="#a4a072"/>
<use href="#pHI" fill="#0e2354" stroke="#0e2354"/>
<use href="#pTW" fill="#a0a0a0" stroke="#a0a0a0"/>
<g fill="none" stroke="#fff" stroke-opacity=".10" stroke-width=".3"><use href="#pXJ"/><use href="#pXZ"/><use href="#pQH"/><use href="#pGS"/><use href="#pNM"/><use href="#pHLJ"/><use href="#pJL"/><use href="#pLN"/><use href="#pHEB"/><use href="#pSX"/><use href="#pSN"/><use href="#pNX"/><use href="#pSD"/><use href="#pHEN"/><use href="#pJS"/><use href="#pAH"/><use href="#pZJ"/><use href="#pFJ"/><use href="#pJX"/><use href="#pHB"/><use href="#pHN"/><use href="#pGD"/><use href="#pGX"/><use href="#pGZ"/><use href="#pCQ"/><use href="#pSC"/><use href="#pYN"/><use href="#pSH"/><use href="#pBJ"/><use href="#pTJ"/></g>
</g><use href="#scs" stroke-width="0.55"/>
</g>
<text class="l" x="0.35" y="104.50">H</text>
</g>
<g transform="translate(425.7 136.8)">
<text class="t" x="61.6" y="4.7">Energy Consumption 2014</text>
<g>
<use href="#grid" stroke-width="0.55"/>
<text class="a" style="font-size:1.70px" text-anchor="end" x="10.6" y="90.01">10°N</text><text class="a" style="font-size:1.70px" text-anchor="end" x="10.6" y="72.56">20°N</text><text class="a" style="font-size:1.70px" text-anchor="end" x="10.6" y="55.11">30°N</text><text class="a" style="font-size:1.70px" text-anchor="end" x="10.6" y="37.66">40°N</text><text class="a" style="font-size:1.70px" text-anchor="end" x="10.6" y="20.21">50°N</text><text class="a" style="font-size:1.70px" text-anchor="middle" x="27.10" y="107.8">80°E</text><text class="a" style="font-size:1.70px" text-anchor="middle" x="42.56" y="107.8">90°E</text><text class="a" style="font-size:1.70px" text-anchor="middle" x="58.02" y="107.8">100°E</text><text class="a" style="font-size:1.70px" text-anchor="middle" x="73.48" y="107.8">110°E</text><text class="a" style="font-size:1.70px" text-anchor="middle" x="88.94" y="107.8">120°E</text><text class="a" style="font-size:1.70px" text-anchor="middle" x="104.40" y="107.8">130°E</text>
<g class="m">
<use href="#pXJ" fill="#b7b26a" stroke="#b7b26a"/>
<use href="#pXZ" fill="#a0a0a0" stroke="#a0a0a0"/>
<use href="#pQH" fill="#394a71" stroke="#394a71"/>
<use href="#pGS" fill="#8a8a74" stroke="#8a8a74"/>
<use href="#pNM" fill="#beb967" stroke="#beb967"/>
<use href="#pHLJ" fill="#b8b36a" stroke="#b8b36a"/>
<use href="#pJL" fill="#908e75" stroke="#908e75"/>
<use href="#pLN" fill="#ccc660" stroke="#ccc660"/>
<use href="#pHEB" fill="#cec85f" stroke="#cec85f"/>
<use href="#pSX" fill="#b0ab6d" stroke="#b0ab6d"/>
<use href="#pSN" fill="#969375" stroke="#969375"/>
<use href="#pNX" fill="#6f7274" stroke="#6f7274"/>
<use href="#pSD" fill="#f0f243" stroke="#f0f243"/>
<use href="#pHEN" fill="#bab469" stroke="#bab469"/>
<use href="#pJS" fill="#d0cb5e" stroke="#d0cb5e"/>
<use href="#pAH" fill="#918f75" stroke="#918f75"/>
<use href="#pZJ" fill="#ccc660" stroke="#ccc660"/>
<use href="#pFJ" fill="#918f75" stroke="#918f75"/>
<use href="#pJX" fill="#777876" stroke="#777876"/>
<use href="#pHB" fill="#9b9776" stroke="#9b9776"/>
<use href="#pHN" fill="#9b9776" stroke="#9b9776"/>
<use href="#pGD" fill="#c6c163" stroke="#c6c163"/>
<use href="#pGX" fill="#838276" stroke="#838276"/>
<use href="#pGZ" fill="#777877" stroke="#777877"/>
<use href="#pCQ" fill="#787977" stroke="#787977"/>
<use href="#pSC" fill="#9b9776" stroke="#9b9776"/>
<use href="#pYN" fill="#797a77" stroke="#797a77"/>
<use href="#pSH" fill="#9c9875" stroke="#9c9875"/>
<use href="#pBJ" fill="#939075" stroke="#939075"/>
<use href="#pTJ" fill="#a5a072" stroke="#a5a072"/>
<use href="#pHI" fill="#112759" stroke="#112759"/>
<use href="#pTW" fill="#a0a0a0" stroke="#a0a0a0"/>
<g fill="none" stroke="#fff" stroke-opacity=".10" stroke-width=".3"><use href="#pXJ"/><use href="#pXZ"/><use href="#pQH"/><use href="#pGS"/><use href="#pNM"/><use href="#pHLJ"/><use href="#pJL"/><use href="#pLN"/><use href="#pHEB"/><use href="#pSX"/><use href="#pSN"/><use href="#pNX"/><use href="#pSD"/><use href="#pHEN"/><use href="#pJS"/><use href="#pAH"/><use href="#pZJ"/><use href="#pFJ"/><use href="#pJX"/><use href="#pHB"/><use href="#pHN"/><use href="#pGD"/><use href="#pGX"/><use href="#pGZ"/><use href="#pCQ"/><use href="#pSC"/><use href="#pYN"/><use href="#pSH"/><use href="#pBJ"/><use href="#pTJ"/></g>
</g><use href="#scs" stroke-width="0.55"/>
</g>
<text class="l" x="0.35" y="104.50">I</text>
</g>
<g transform="translate(567.6 136.8)">
<text class="t" x="61.6" y="4.7">Energy Consumption 2015</text>
<g>
<use href="#grid" stroke-width="0.55"/>
<text class="a" style="font-size:1.70px" text-anchor="end" x="10.6" y="90.01">10°N</text><text class="a" style="font-size:1.70px" text-anchor="end" x="10.6" y="72.56">20°N</text><text class="a" style="font-size:1.70px" text-anchor="end" x="10.6" y="55.11">30°N</text><text class="a" style="font-size:1.70px" text-anchor="end" x="10.6" y="37.66">40°N</text><text class="a" style="font-size:1.70px" text-anchor="end" x="10.6" y="20.21">50°N</text><text class="a" style="font-size:1.70px" text-anchor="middle" x="27.10" y="107.8">80°E</text><text class="a" style="font-size:1.70px" text-anchor="middle" x="42.56" y="107.8">90°E</text><text class="a" style="font-size:1.70px" text-anchor="middle" x="58.02" y="107.8">100°E</text><text class="a" style="font-size:1.70px" text-anchor="middle" x="73.48" y="107.8">110°E</text><text class="a" style="font-size:1.70px" text-anchor="middle" x="88.94" y="107.8">120°E</text><text class="a" style="font-size:1.70px" text-anchor="middle" x="104.40" y="107.8">130°E</text>
<g class="m">
<use href="#pXJ" fill="#bab469" stroke="#bab469"/>
<use href="#pXZ" fill="#a0a0a0" stroke="#a0a0a0"/>
<use href="#pQH" fill="#515c74" stroke="#515c74"/>
<use href="#pGS" fill="#8b8a74" stroke="#8b8a74"/>
<use href="#pNM" fill="#c0ba66" stroke="#c0ba66"/>
<use href="#pHLJ" fill="#bab469" stroke="#bab469"/>
<use href="#pJL" fill="#928f75" stroke="#928f75"/>
<use href="#pLN" fill="#cac561" stroke="#cac561"/>
<use href="#pHEB" fill="#cec95f" stroke="#cec95f"/>
<use href="#pSX" fill="#b2ad6c" stroke="#b2ad6c"/>
<use href="#pSN" fill="#989576" stroke="#989576"/>
<use href="#pNX" fill="#757676" stroke="#757676"/>
<use href="#pSD" fill="#f2f341" stroke="#f2f341"/>
<use href="#pHEN" fill="#bab469" stroke="#bab469"/>
<use href="#pJS" fill="#d2cc5d" stroke="#d2cc5d"/>
<use href="#pAH" fill="#939075" stroke="#939075"/>
<use href="#pZJ" fill="#ccc760" stroke="#ccc760"/>
<use href="#pFJ" fill="#939075" stroke="#939075"/>
<use href="#pJX" fill="#767776" stroke="#767776"/>
<use href="#pHB" fill="#9c9875" stroke="#9c9875"/>
<use href="#pHN" fill="#9b9775" stroke="#9b9775"/>
<use href="#pGD" fill="#c8c262" stroke="#c8c262"/>
<use href="#pGX" fill="#858576" stroke="#858576"/>
<use href="#pGZ" fill="#7a7a77" stroke="#7a7a77"/>
<use href="#pCQ" fill="#7c7c78" stroke="#7c7c78"/>
<use href="#pSC" fill="#9c9875" stroke="#9c9875"/>
<use href="#pYN" fill="#7a7b78" stroke="#7a7b78"/>
<use href="#pSH" fill="#9d9975" stroke="#9d9975"/>
<use href="#pBJ" fill="#969375" stroke="#969375"/>
<use href="#pTJ" fill="#a6a171" stroke="#a6a171"/>
<use href="#pHI" fill="#162c5e" stroke="#162c5e"/>
<use href="#pTW" fill="#a0a0a0" stroke="#a0a0a0"/>
<g fill="none" stroke="#fff" stroke-opacity=".10" stroke-width=".3"><use href="#pXJ"/><use href="#pXZ"/><use href="#pQH"/><use href="#pGS"/><use href="#pNM"/><use href="#pHLJ"/><use href="#pJL"/><use href="#pLN"/><use href="#pHEB"/><use href="#pSX"/><use href="#pSN"/><use href="#pNX"/><use href="#pSD"/><use href="#pHEN"/><use href="#pJS"/><use href="#pAH"/><use href="#pZJ"/><use href="#pFJ"/><use href="#pJX"/><use href="#pHB"/><use href="#pHN"/><use href="#pGD"/><use href="#pGX"/><use href="#pGZ"/><use href="#pCQ"/><use href="#pSC"/><use href="#pYN"/><use href="#pSH"/><use href="#pBJ"/><use href="#pTJ"/></g>
</g><use href="#scs" stroke-width="0.55"/>
</g>
<text class="l" x="0.35" y="104.50">J</text>
</g>
<g transform="translate(0.0 273.6)">
<text class="t" x="61.6" y="4.7">Energy Consumption 2016</text>
<g>
<use href="#grid" stroke-width="0.55"/>
<text class="a" style="font-size:1.70px" text-anchor="end" x="10.6" y="90.01">10°N</text><text class="a" style="font-size:1.70px" text-anchor="end" x="10.6" y="72.56">20°N</text><text class="a" style="font-size:1.70px" text-anchor="end" x="10.6" y="55.11">30°N</text><text class="a" style="font-size:1.70px" text-anchor="end" x="10.6" y="37.66">40°N</text><text class="a" style="font-size:1.70px" text-anchor="end" x="10.6" y="20.21">50°N</text><text class="a" style="font-size:1.70px" text-anchor="middle" x="27.10" y="107.8">80°E</text><text class="a" style="font-size:1.70px" text-anchor="middle" x="42.56" y="107.8">90°E</text><text class="a" style="font-size:1.70px" text-anchor="middle" x="58.02" y="107.8">100°E</text><text class="a" style="font-size:1.70px" text-anchor="middle" x="73.48" y="107.8">110°E</text><text class="a" style="font-size:1.70px" text-anchor="middle" x="88.94" y="107.8">120°E</text><text class="a" style="font-size:1.70px" text-anchor="middle" x="104.40" y="107.8">130°E</text>
<g class="m">
<use href="#pXJ" fill="#c3bd65" stroke="#c3bd65"/>
<use href="#pXZ" fill="#a0a0a0" stroke="#a0a0a0"/>
<use href="#pQH" fill="#5f6572" stroke="#5f6572"/>
<use href="#pGS" fill="#8c8b74" stroke="#8c8b74"/>
<use href="#pNM" fill="#c7c163" stroke="#c7c163"/>
<use href="#pHLJ" fill="#c0ba66" stroke="#c0ba66"/>
<use href="#pJL" fill="#9a9676" stroke="#9a9676"/>
<use href="#pLN" fill="#c9c362" stroke="#c9c362"/>
<use href="#pHEB" fill="#cfca5e" stroke="#cfca5e"/>
<use href="#pSX" fill="#b4af6b" stroke="#b4af6b"/>
<use href="#pSN" fill="#9a9676" stroke="#9a9676"/>
<use href="#pNX" fill="#7c7c78" stroke="#7c7c78"/>
<use href="#pSD" fill="#f3f540" stroke="#f3f540"/>
<use href="#pHEN" fill="#bab469" stroke="#bab469"/>
<use href="#pJS" fill="#d3ce5c" stroke="#d3ce5c"/>
<use href="#pAH" fill="#949275" stroke="#949275"/>
<use href="#pZJ" fill="#cdc85f" stroke="#cdc85f"/>
<use href="#pFJ" fill="#949275" stroke="#949275"/>
<use href="#pJX" fill="#757676" stroke="#757676"/>
<use href="#pHB" fill="#9c9875" stroke="#9c9875"/>
<use href="#pHN" fill="#9c9875" stroke="#9c9875"/>
<use href="#pGD" fill="#c9c362" stroke="#c9c362"/>
<use href="#pGX" fill="#878775" stroke="#878775"/>
<use href="#pGZ" fill="#7c7c78" stroke="#7c7c78"/>
<use href="#pCQ" fill="#818077" stroke="#818077"/>
<use href="#pSC" fill="#9c9875" stroke="#9c9875"/>
<use href="#pYN" fill="#7c7c78" stroke="#7c7c78"/>
<use href="#pSH" fill="#9d9975" stroke="#9d9975"/>
<use href="#pBJ" fill="#9a9676" stroke="#9a9676"/>
<use href="#pTJ" fill="#a7a271" stroke="#a7a271"/>
<use href="#pHI" fill="#1c3264" stroke="#1c3264"/>
<use href="#pTW" fill="#a0a0a0" stroke="#a0a0a0"/>
<g fill="none" stroke="#fff" stroke-opacity=".10" stroke-width=".3"><use href="#pXJ"/><use href="#pXZ"/><use href="#pQH"/><use href="#pGS"/><use href="#pNM"/><use href="#pHLJ"/><use href="#pJL"/><use href="#pLN"/><use href="#pHEB"/><use href="#pSX"/><use href="#pSN"/><use href="#pNX"/><use href="#pSD"/><use href="#pHEN"/><use href="#pJS"/><use href="#pAH"/><use href="#pZJ"/><use href="#pFJ"/><use href="#pJX"/><use href="#pHB"/><use href="#pHN"/><use href="#pGD"/><use href="#pGX"/><use href="#pGZ"/><use href="#pCQ"/><use href="#pSC"/><use href="#pYN"/><use href="#pSH"/><use href="#pBJ"/><use href="#pTJ"/></g>
</g><use href="#scs" stroke-width="0.55"/>
</g>
<text class="l" x="0.35" y="104.25">K</text>
</g>
<g transform="translate(141.9 273.6)">
<text class="t" x="61.6" y="4.7">Energy Consumption 2017</text>
<g>
<use href="#grid" stroke-width="0.55"/>
<text class="a" style="font-size:1.70px" text-anchor="end" x="10.6" y="90.01">10°N</text><text class="a" style="font-size:1.70px" text-anchor="end" x="10.6" y="72.56">20°N</text><text class="a" style="font-size:1.70px" text-anchor="end" x="10.6" y="55.11">30°N</text><text class="a" style="font-size:1.70px" text-anchor="end" x="10.6" y="37.66">40°N</text><text class="a" style="font-size:1.70px" text-anchor="end" x="10.6" y="20.21">50°N</text><text class="a" style="font-size:1.70px" text-anchor="middle" x="27.10" y="107.8">80°E</text><text class="a" style="font-size:1.70px" text-anchor="middle" x="42.56" y="107.8">90°E</text><text class="a" style="font-size:1.70px" text-anchor="middle" x="58.02" y="107.8">100°E</text><text class="a" style="font-size:1.70px" text-anchor="middle" x="73.48" y="107.8">110°E</text><text class="a" style="font-size:1.70px" text-anchor="middle" x="88.94" y="107.8">120°E</text><text class="a" style="font-size:1.70px" text-anchor="middle" x="104.40" y="107.8">130°E</text>
<g class="m">
<use href="#pXJ" fill="#c5bf64" stroke="#c5bf64"/>
<use href="#pXZ" fill="#a0a0a0" stroke="#a0a0a0"/>
<use href="#pQH" fill="#5f6572" stroke="#5f6572"/>
<use href="#pGS" fill="#8d8c74" stroke="#8d8c74"/>
<use href="#pNM" fill="#c9c362" stroke="#c9c362"/>
<use href="#pHLJ" fill="#c0ba66" stroke="#c0ba66"/>
<use href="#pJL" fill="#9c9875" stroke="#9c9875"/>
<use href="#pLN" fill="#cbc561" stroke="#cbc561"/>
<use href="#pHEB" fill="#d1cc5d" stroke="#d1cc5d"/>
<use href="#pSX" fill="#b8b36a" stroke="#b8b36a"/>
<use href="#pSN" fill="#9c9875" stroke="#9c9875"/>
<use href="#pNX" fill="#7f7f77" stroke="#7f7f77"/>
<use href="#pSD" fill="#f3f540" stroke="#f3f540"/>
<use href="#pHEN" fill="#bab469" stroke="#bab469"/>
<use href="#pJS" fill="#d5d05b" stroke="#d5d05b"/>
<use href="#pAH" fill="#959275" stroke="#959275"/>
<use href="#pZJ" fill="#d0cb5e" stroke="#d0cb5e"/>
<use href="#pFJ" fill="#979476" stroke="#979476"/>
<use href="#pJX" fill="#737575" stroke="#737575"/>
<use href="#pHB" fill="#9d9975" stroke="#9d9975"/>
<use href="#pHN" fill="#9c9875" stroke="#9c9875"/>
<use href="#pGD" fill="#cec95f" stroke="#cec95f"/>
<use href="#pGX" fill="#888775" stroke="#888775"/>
<use href="#pGZ" fill="#767776" stroke="#767776"/>
<use href="#pCQ" fill="#818077" stroke="#818077"/>
<use href="#pSC" fill="#9c9875" stroke="#9c9875"/>
<use href="#pYN" fill="#7e7d78" stroke="#7e7d78"/>
<use href="#pSH" fill="#9e9a74" stroke="#9e9a74"/>
<use href="#pBJ" fill="#9c9875" stroke="#9c9875"/>
<use href="#pTJ" fill="#a7a371" stroke="#a7a371"/>
<use href="#pHI" fill="#203566" stroke="#203566"/>
<use href="#pTW" fill="#a0a0a0" stroke="#a0a0a0"/>
<g fill="none" stroke="#fff" stroke-opacity=".10" stroke-width=".3"><use href="#pXJ"/><use href="#pXZ"/><use href="#pQH"/><use href="#pGS"/><use href="#pNM"/><use href="#pHLJ"/><use href="#pJL"/><use href="#pLN"/><use href="#pHEB"/><use href="#pSX"/><use href="#pSN"/><use href="#pNX"/><use href="#pSD"/><use href="#pHEN"/><use href="#pJS"/><use href="#pAH"/><use href="#pZJ"/><use href="#pFJ"/><use href="#pJX"/><use href="#pHB"/><use href="#pHN"/><use href="#pGD"/><use href="#pGX"/><use href="#pGZ"/><use href="#pCQ"/><use href="#pSC"/><use href="#pYN"/><use href="#pSH"/><use href="#pBJ"/><use href="#pTJ"/></g>
</g><use href="#scs" stroke-width="0.55"/>
</g>
<text class="l" x="0.35" y="104.25">L</text>
</g>
<g transform="translate(283.8 273.6)">
<text class="t" x="61.6" y="4.7">Energy Consumption 2018</text>
<g>
<use href="#grid" stroke-width="0.55"/>
<text class="a" style="font-size:1.70px" text-anchor="end" x="10.6" y="90.01">10°N</text><text class="a" style="font-size:1.70px" text-anchor="end" x="10.6" y="72.56">20°N</text><text class="a" style="font-size:1.70px" text-anchor="end" x="10.6" y="55.11">30°N</text><text class="a" style="font-size:1.70px" text-anchor="end" x="10.6" y="37.66">40°N</text><text class="a" style="font-size:1.70px" text-anchor="end" x="10.6" y="20.21">50°N</text><text class="a" style="font-size:1.70px" text-anchor="middle" x="27.10" y="107.8">80°E</text><text class="a" style="font-size:1.70px" text-anchor="middle" x="42.56" y="107.8">90°E</text><text class="a" style="font-size:1.70px" text-anchor="middle" x="58.02" y="107.8">100°E</text><text class="a" style="font-size:1.70px" text-anchor="middle" x="73.48" y="107.8">110°E</text><text class="a" style="font-size:1.70px" text-anchor="middle" x="88.94" y="107.8">120°E</text><text class="a" style="font-size:1.70px" text-anchor="middle" x="104.40" y="107.8">130°E</text>
<g class="m">
<use href="#pXJ" fill="#cdc85f" stroke="#cdc85f"/>
<use href="#pXZ" fill="#a0a0a0" stroke="#a0a0a0"/>
<use href="#pQH" fill="#5f6572" stroke="#5f6572"/>
<use href="#pGS" fill="#8e8c74" stroke="#8e8c74"/>
<use href="#pNM" fill="#d3ce5c" stroke="#d3ce5c"/>
<use href="#pHLJ" fill="#616772" stroke="#616772"/>
<use href="#pJL" fill="#aca76f" stroke="#aca76f"/>
<use href="#pLN" fill="#cdc85f" stroke="#cdc85f"/>
<use href="#pHEB" fill="#e9e84a" stroke="#e9e84a"/>
<use href="#pSX" fill="#bdb768" stroke="#bdb768"/>
<use href="#pSN" fill="#9d9975" stroke="#9d9975"/>
<use href="#pNX" fill="#828276" stroke="#828276"/>
<use href="#pSD" fill="#f3f540" stroke="#f3f540"/>
<use href="#pHEN" fill="#bab469" stroke="#bab469"/>
<use href="#pJS" fill="#d7d359" stroke="#d7d359"/>
<use href="#pAH" fill="#969375" stroke="#969375"/>
<use href="#pZJ" fill="#d3ce5c" stroke="#d3ce5c"/>
<use href="#pFJ" fill="#9a9676" stroke="#9a9676"/>
<use href="#pJX" fill="#707375" stroke="#707375"/>
<use href="#pHB" fill="#9e9a74" stroke="#9e9a74"/>
<use href="#pHN" fill="#9c9875" stroke="#9c9875"/>
<use href="#pGD" fill="#d3ce5c" stroke="#d3ce5c"/>
<use href="#pGX" fill="#898875" stroke="#898875"/>
<use href="#pGZ" fill="#707375" stroke="#707375"/>
<use href="#pCQ" fill="#818077" stroke="#818077"/>
<use href="#pSC" fill="#9b9776" stroke="#9b9776"/>
<use href="#pYN" fill="#7f7f77" stroke="#7f7f77"/>
<use href="#pSH" fill="#9e9a74" stroke="#9e9a74"/>
<use href="#pBJ" fill="#9d9975" stroke="#9d9975"/>
<use href="#pTJ" fill="#a8a370" stroke="#a8a370"/>
<use href="#pHI" fill="#243969" stroke="#243969"/>
<use href="#pTW" fill="#a0a0a0" stroke="#a0a0a0"/>
<g fill="none" stroke="#fff" stroke-opacity=".10" stroke-width=".3"><use href="#pXJ"/><use href="#pXZ"/><use href="#pQH"/><use href="#pGS"/><use href="#pNM"/><use href="#pHLJ"/><use href="#pJL"/><use href="#pLN"/><use href="#pHEB"/><use href="#pSX"/><use href="#pSN"/><use href="#pNX"/><use href="#pSD"/><use href="#pHEN"/><use href="#pJS"/><use href="#pAH"/><use href="#pZJ"/><use href="#pFJ"/><use href="#pJX"/><use href="#pHB"/><use href="#pHN"/><use href="#pGD"/><use href="#pGX"/><use href="#pGZ"/><use href="#pCQ"/><use href="#pSC"/><use href="#pYN"/><use href="#pSH"/><use href="#pBJ"/><use href="#pTJ"/></g>
</g><use href="#scs" stroke-width="0.55"/>
</g>
<text class="l" x="0.35" y="104.25">M</text>
</g>
<g transform="translate(425.7 273.6)">
<text class="t" x="61.6" y="4.7">Energy Consumption 2019</text>
<g transform="translate(-7.86 14.76) scale(0.7365)">
<use href="#grid" stroke-width="0.75"/>
<text class="a" style="font-size:2.31px" text-anchor="end" x="10.2" y="90.23">10°N</text><text class="a" style="font-size:2.31px" text-anchor="end" x="10.2" y="72.78">20°N</text><text class="a" style="font-size:2.31px" text-anchor="end" x="10.2" y="55.33">30°N</text><text class="a" style="font-size:2.31px" text-anchor="end" x="10.2" y="37.88">40°N</text><text class="a" style="font-size:2.31px" text-anchor="end" x="10.2" y="20.43">50°N</text><text class="a" style="font-size:2.31px" text-anchor="middle" x="27.10" y="109.7">80°E</text><text class="a" style="font-size:2.31px" text-anchor="middle" x="42.56" y="109.7">90°E</text><text class="a" style="font-size:2.31px" text-anchor="middle" x="58.02" y="109.7">100°E</text><text class="a" style="font-size:2.31px" text-anchor="middle" x="73.48" y="109.7">110°E</text><text class="a" style="font-size:2.31px" text-anchor="middle" x="88.94" y="109.7">120°E</text><text class="a" style="font-size:2.31px" text-anchor="middle" x="104.40" y="109.7">130°E</text>
<g class="m">
<use href="#pXJ" fill="#d5d05b" stroke="#d5d05b"/>
<use href="#pXZ" fill="#a0a0a0" stroke="#a0a0a0"/>
<use href="#pQH" fill="#656a73" stroke="#656a73"/>
<use href="#pGS" fill="#8f8d74" stroke="#8f8d74"/>
<use href="#pNM" fill="#dad557" stroke="#dad557"/>
<use href="#pHLJ" fill="#d1cc5d" stroke="#d1cc5d"/>
<use href="#pJL" fill="#a4a072" stroke="#a4a072"/>
<use href="#pLN" fill="#cdc85f" stroke="#cdc85f"/>
<use href="#pHEB" fill="#e3e050" stroke="#e3e050"/>
<use href="#pSX" fill="#c0ba66" stroke="#c0ba66"/>
<use href="#pSN" fill="#9f9b74" stroke="#9f9b74"/>
<use href="#pNX" fill="#858576" stroke="#858576"/>
<use href="#pSD" fill="#f3f540" stroke="#f3f540"/>
<use href="#pHEN" fill="#bab469" stroke="#bab469"/>
<use href="#pJS" fill="#dad557" stroke="#dad557"/>
<use href="#pAH" fill="#979476" stroke="#979476"/>
<use href="#pZJ" fill="#d3ce5c" stroke="#d3ce5c"/>
<use href="#pFJ" fill="#9c9875" stroke="#9c9875"/>
<use href="#pJX" fill="#777877" stroke="#777877"/>
<use href="#pHB" fill="#9f9b74" stroke="#9f9b74"/>
<use href="#pHN" fill="#9c9875" stroke="#9c9875"/>
<use href="#pGD" fill="#d5d05b" stroke="#d5d05b"/>
<use href="#pGX" fill="#8a8975" stroke="#8a8975"/>
<use href="#pGZ" fill="#777877" stroke="#777877"/>
<use href="#pCQ" fill="#818077" stroke="#818077"/>
<use href="#pSC" fill="#9a9676" stroke="#9a9676"/>
<use href="#pYN" fill="#818077" stroke="#818077"/>
<use href="#pSH" fill="#9f9b74" stroke="#9f9b74"/>
<use href="#pBJ" fill="#9f9b74" stroke="#9f9b74"/>
<use href="#pTJ" fill="#a9a470" stroke="#a9a470"/>
<use href="#pHI" fill="#273c6c" stroke="#273c6c"/>
<use href="#pTW" fill="#a0a0a0" stroke="#a0a0a0"/>
<g fill="none" stroke="#fff" stroke-opacity=".10" stroke-width=".3"><use href="#pXJ"/><use href="#pXZ"/><use href="#pQH"/><use href="#pGS"/><use href="#pNM"/><use href="#pHLJ"/><use href="#pJL"/><use href="#pLN"/><use href="#pHEB"/><use href="#pSX"/><use href="#pSN"/><use href="#pNX"/><use href="#pSD"/><use href="#pHEN"/><use href="#pJS"/><use href="#pAH"/><use href="#pZJ"/><use href="#pFJ"/><use href="#pJX"/><use href="#pHB"/><use href="#pHN"/><use href="#pGD"/><use href="#pGX"/><use href="#pGZ"/><use href="#pCQ"/><use href="#pSC"/><use href="#pYN"/><use href="#pSH"/><use href="#pBJ"/><use href="#pTJ"/></g>
</g><use href="#scs" stroke-width="0.82"/>
</g>
<text class="l" x="0.35" y="104.85">N</text>
</g>
<defs><linearGradient id="lg" x1="0" y1="1" x2="0" y2="0">
<stop offset="0.0" stop-color="#0a1e4e"/>
<stop offset="0.1" stop-color="#1c3264"/>
<stop offset="0.2" stop-color="#344671"/>
<stop offset="0.3" stop-color="#515c74"/>
<stop offset="0.4" stop-color="#656a73"/>
<stop offset="0.5" stop-color="#7c7c78"/>
<stop offset="0.6" stop-color="#949275"/>
<stop offset="0.7" stop-color="#aea96e"/>
<stop offset="0.8" stop-color="#c9c362"/>
<stop offset="0.9" stop-color="#dedb54"/>
<stop offset="1.0" stop-color="#f3f540"/>
</linearGradient></defs>
<text x="508" y="320.6" style="font-family:'DejaVu Sans','Liberation Sans',sans-serif;font-size:2.3px;fill:#111;stroke:#111;stroke-width:.06px">Energy consumption (million tons SCE)</text>
<rect x="508" y="322" width="3.7" height="20.8" fill="url(#lg)"/>
<text x="513" y="323.5" style="font-family:'DejaVu Sans','Liberation Sans',sans-serif;font-size:2.2px;fill:#222;stroke:#222;stroke-width:.05px">1,000</text>
<text x="513" y="326.6" style="font-family:'DejaVu Sans','Liberation Sans',sans-serif;font-size:2.2px;fill:#222;stroke:#222;stroke-width:.05px">500</text>
<text x="513" y="330.5" style="font-family:'DejaVu Sans','Liberation Sans',sans-serif;font-size:2.2px;fill:#222;stroke:#222;stroke-width:.05px">200</text>
<text x="513" y="333.6" style="font-family:'DejaVu Sans','Liberation Sans',sans-serif;font-size:2.2px;fill:#222;stroke:#222;stroke-width:.05px">100</text>
<text x="513" y="336.6" style="font-family:'DejaVu Sans','Liberation Sans',sans-serif;font-size:2.2px;fill:#222;stroke:#222;stroke-width:.05px">50</text>
<text x="513" y="340.5" style="font-family:'DejaVu Sans','Liberation Sans',sans-serif;font-size:2.2px;fill:#222;stroke:#222;stroke-width:.05px">20</text>
<text x="513" y="343.5" style="font-family:'DejaVu Sans','Liberation Sans',sans-serif;font-size:2.2px;fill:#222;stroke:#222;stroke-width:.05px">10</text>
</svg></body></html>
